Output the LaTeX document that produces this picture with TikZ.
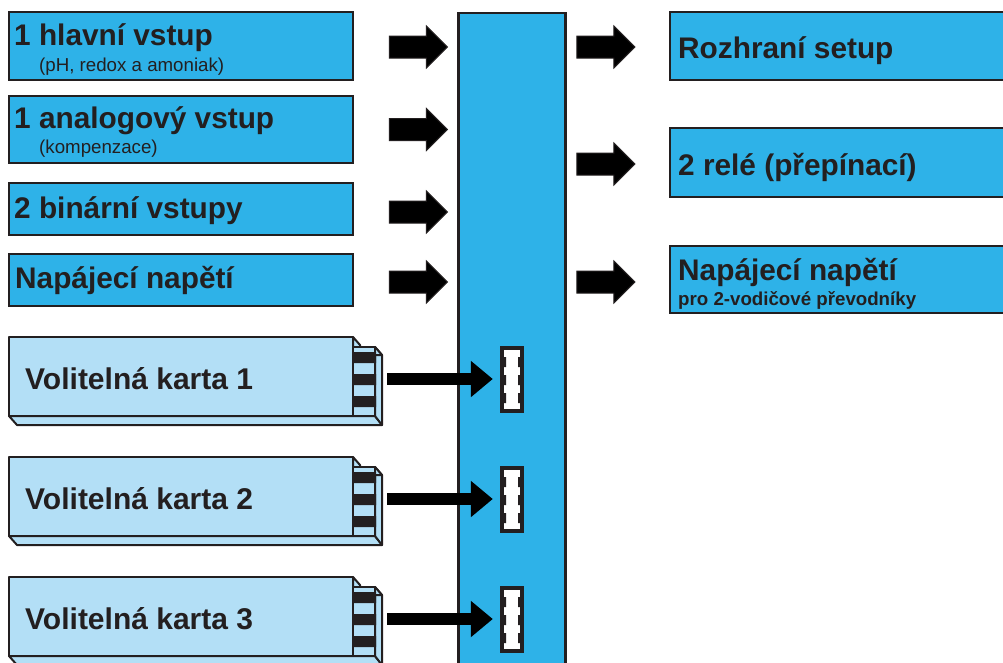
\documentclass[tikz,border=0pt]{standalone}
\usepackage{fontspec}
\setmainfont{Liberation Sans}
\usetikzlibrary{arrows.meta,calc}
\definecolor{ink}{HTML}{231F20}
\definecolor{cyanbox}{HTML}{2EB2E8}
\definecolor{cardblue}{HTML}{B3DFF6}
\tikzset{
  blockarrow/.pic={
    \filldraw[fill=black, draw=ink, line width=1pt, line join=miter]
      (0,-11) -- (37,-11) -- (37,-21) -- (58,0) -- (37,21) -- (37,11) -- (0,11) -- cycle;
  },
  card/.pic={
    \begin{scope}[draw=ink, line width=2pt, line join=round, fill=cardblue]
      \filldraw (344,0) -- (351,8) -- (351,88) -- (344,79) -- cycle;
      \filldraw (0,79) -- (8,88) -- (373,88) -- (366,79) -- cycle;
      \filldraw[line width=2.8pt] (0,0) rectangle (344,79);
      \filldraw (366,10) -- (373,18) -- (373,88) -- (366,79) -- cycle;
      \filldraw (344,10) -- (366,10) -- (373,18) -- (351,18) -- cycle;
      \filldraw (344,10) rectangle (366,79);
      \fill[ink] (344,15) rectangle (367,26) (344,37) rectangle (367,48) (344,59) rectangle (367,70);
    \end{scope}
    \coordinate (-port) at (373,42);
  },
  slot/.pic={
    \node[slotbox] (-box) at (0,0) {};
    \fill[white] (-8,-29.5) rectangle (8,29.5);
    \fill[ink] (-8,-22) rectangle (-6,-12) (6,-22) rectangle (8,-12)
               (-8,-4) rectangle (-6,6) (6,-4) rectangle (8,6)
               (-8,14) rectangle (-6,24) (6,14) rectangle (8,24);
  }
}
\begin{document}
\begin{tikzpicture}[x=1pt,y=-1pt,
  inbox/.style={draw=ink, line width=2.8pt, fill=cyanbox, inner sep=0pt, minimum width=344pt},
  outbox/.style={draw=ink, line width=2.8pt, fill=cyanbox, inner sep=0pt, minimum width=350pt},
  mainbar/.style={draw=ink, line width=2.8pt, fill=cyanbox, inner sep=0pt, minimum width=107pt, minimum height=667pt},
  slotbox/.style={fill=ink, inner sep=0pt, minimum width=24pt, minimum height=67pt},
  big/.style={font=\bfseries\fontsize{29.8}{31}\selectfont, text=ink, inner sep=0pt, anchor=base west},
  cardtext/.style={font=\bfseries\fontsize{30}{31}\selectfont, text=ink, inner sep=0pt, anchor=base west},
  sub/.style={font=\fontsize{18.7}{20}\selectfont, text=ink, inner sep=0pt, anchor=base west},
  subbold/.style={font=\bfseries\fontsize{18.7}{20}\selectfont, text=ink, inner sep=0pt, anchor=base west},
  cardarrow/.style={draw=black, line width=11.5pt, shorten <=5pt, shorten >=7pt, -{Triangle[length=22pt,width=35pt]}}
]
\useasboundingbox (0,0) rectangle (1003,662);
\fill[white] (0,0) rectangle (1003,662);

% central bar
\node[mainbar] (bar) at (512,346.5) {};

% input boxes
\node[inbox, minimum height=68pt] (in1) at (181,46) {};
\node[inbox, minimum height=67pt] (in2) at (181,129.5) {};
\node[inbox, minimum height=52pt] (in3) at (181,209) {};
\node[inbox, minimum height=52pt] (in4) at (181,280) {};

\node[big] (t1) at (14,45) {1 hlavní vstup};
\node[sub] (t1s) at (39,71) {(pH, redox a amoniak)};
\node[big] (t2) at (14,128) {1 analogový vstup};
\node[sub] (t2s) at (39,153) {(kompenzace)};
\node[big] (t3) at (14,218) {2 binární vstupy};
\node[big] (t4) at (15,288) {Napájecí napětí};

% output boxes
\node[outbox, minimum height=68pt] (out1) at (845,46) {};
\node[outbox, minimum height=69pt] (out2) at (845,162.5) {};
\node[outbox, minimum height=67pt] (out3) at (845,279.5) {};

\node[big] (o1) at (678,58) {Rozhraní setup};
\node[big] (o2) at (678,175) {2 relé (přepínací)};
\node[big] (o3) at (678,280) {Napájecí napětí};
\node[subbold] (o3s) at (678,305) {pro 2-vodičové převodníky};

% block arrows
\pic at ($(in1.east)+(35,1)$) {blockarrow};
\pic at ($(in2.east)+(35,0)$) {blockarrow};
\pic at ($(in3.east)+(35,3)$) {blockarrow};
\pic at ($(in4.east)+(35,2)$) {blockarrow};
\pic at ($(bar.east |- out1.west)+(10,1)$) {blockarrow};
\pic at ($(bar.east |- out2.west)+(10,1.5)$) {blockarrow};
\pic at ($(bar.east |- out3.west)+(10,2.5)$) {blockarrow};

% option cards
\pic (c1) at (9,337) {card};
\pic (c2) at (9,457) {card};
\pic (c3) at (9,577) {card};
\node[cardtext] (k1) at (25,389) {Volitelná karta 1};
\node[cardtext] (k2) at (25,509) {Volitelná karta 2};
\node[cardtext] (k3) at (25,629) {Volitelná karta 3};

% slots
\pic (s1) at (512,379) {slot};
\pic (s2) at (512,499) {slot};
\pic (s3) at (512,619) {slot};

% card connectors
\draw[cardarrow] (c1-port) -- (c1-port -| s1-box.west);
\draw[cardarrow] (c2-port) -- (c2-port -| s2-box.west);
\draw[cardarrow] (c3-port) -- (c3-port -| s3-box.west);
\end{tikzpicture}
\end{document}
